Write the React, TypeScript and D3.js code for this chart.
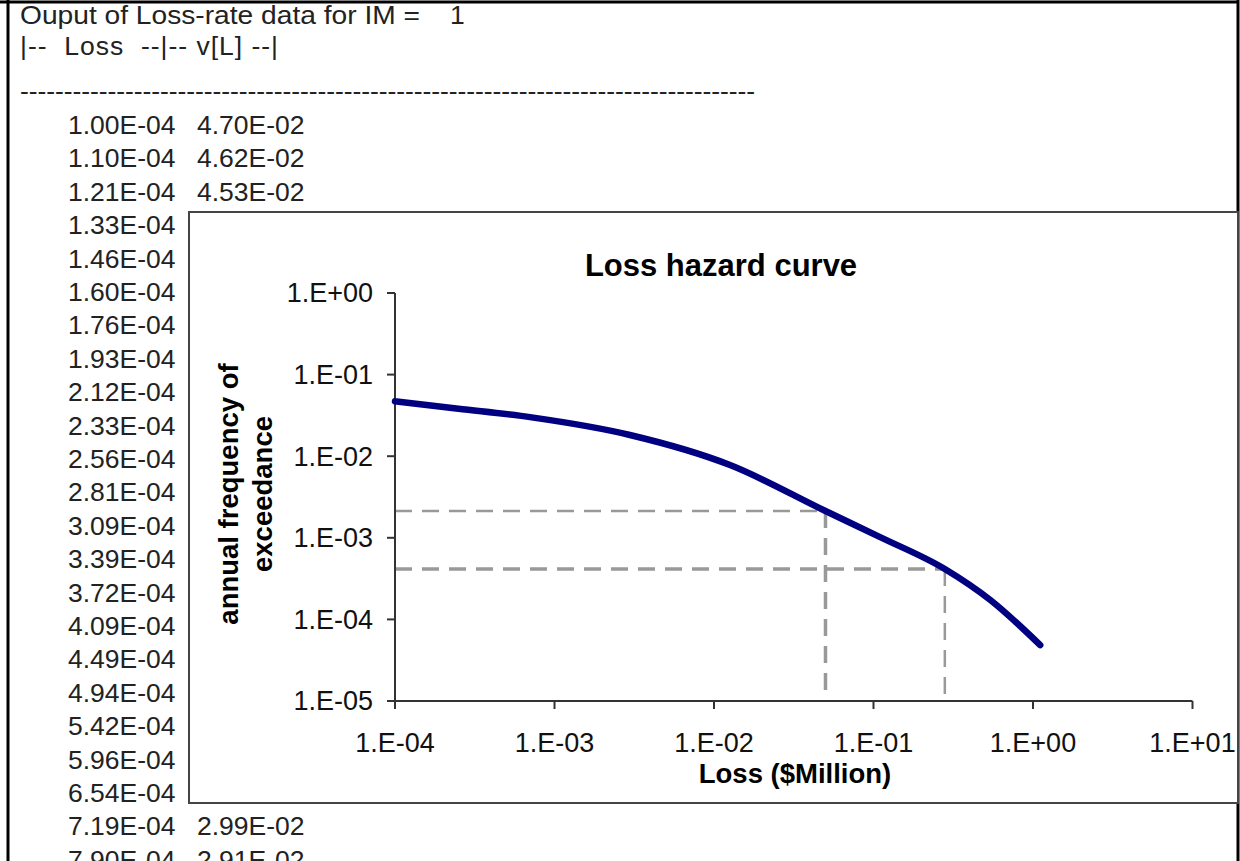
import React from "react";
import * as d3 from "d3";

const W = 1240;
const H = 861;

// ---- text listing (background document) ----
const headerTitle = "Ouput of Loss-rate data for IM =";
const headerIM = "1";
const headerColumns = "|--  Loss  --|-- v[L] --|";
const tableLoss = [
  "1.00E-04", "1.10E-04", "1.21E-04", "1.33E-04", "1.46E-04", "1.60E-04",
  "1.76E-04", "1.93E-04", "2.12E-04", "2.33E-04", "2.56E-04", "2.81E-04",
  "3.09E-04", "3.39E-04", "3.72E-04", "4.09E-04", "4.49E-04", "4.94E-04",
  "5.42E-04", "5.96E-04", "6.54E-04", "7.19E-04", "7.90E-04",
];
const tableRate = [
  "4.70E-02", "4.62E-02", "4.53E-02", "", "", "",
  "", "", "", "", "", "",
  "", "", "", "", "", "",
  "", "", "3.07E-02", "2.99E-02", "2.91E-02",
];

// ---- chart data ----
const chartTitle = "Loss hazard curve";
const xAxisTitle = "Loss ($Million)";
const yAxisTitleLines = ["annual frequency of", "exceedance"];
const xTickValues = [1e-4, 1e-3, 1e-2, 1e-1, 1e0, 1e1];
const yTickValues = [1e-5, 1e-4, 1e-3, 1e-2, 1e-1, 1e0];

const lossValues = [1.0e-4, 2.5e-4, 7.19e-4, 2.97e-3, 1.26e-2, 5.0e-2, 0.11, 0.28, 0.54, 1.11];
const rateValues = [4.7e-2, 3.82e-2, 2.99e-2, 1.82e-2, 7.8e-3, 2.13e-3, 1.02e-3, 4.15e-4, 1.73e-4, 4.85e-5];

// reference (dashed) read-offs
const refLosses = [5.0e-2, 0.28];
const refRates = [2.13e-3, 4.15e-4];
const refWidthsH = [2.5, 3.5];
const refWidthsV = [3.5, 2.5];

const FONT = "'Liberation Sans', Arial, Helvetica, sans-serif";

function fmtExp(v: number): string {
  const e = Math.round(Math.log10(v));
  return "1.E" + (e < 0 ? "-" : "+") + String(Math.abs(e)).padStart(2, "0");
}

export default function App() {
  const x = d3.scaleLog().domain([1e-4, 1e1]).range([395, 1192.5]);
  const y = d3.scaleLog().domain([1e-5, 1]).range([701, 293]);

  const pts = lossValues.map((l, i) => [l, rateValues[i]] as [number, number]);
  const line = d3
    .line<[number, number]>()
    .x((d) => x(d[0]))
    .y((d) => y(d[1]))
    .curve(d3.curveMonotoneX);

  const rowY = (i: number) => 134 + 33.4 * i;
  const LF = 26.5;

  const box = { x: 189, y: 212, w: 1049, h: 591 };

  return (
    <svg
      width={W}
      height={H}
      style={{ position: "absolute", left: 0, top: 0, background: "#fff" }}
      fontFamily={FONT}
    >
      <rect x={0} y={0} width={W} height={H} fill="#fff" />
      {/* document frame */}
      <line x1={8} y1={0} x2={8} y2={H} stroke="#000" strokeWidth={3} />
      <line x1={0} y1={2} x2={1238} y2={2} stroke="#000" strokeWidth={3} />
      <line x1={1238} y1={0} x2={1238} y2={H} stroke="#000" strokeWidth={3} />

      {/* listing */}
      <text x={20} y={24} fontSize={LF} fill="#222" textLength={400} lengthAdjust="spacingAndGlyphs">{headerTitle}</text>
      <text x={450} y={24} fontSize={LF} fill="#222">{headerIM}</text>
      <text x={20} y={55} fontSize={LF} fill="#222" xmlSpace="preserve" textLength={258} lengthAdjust="spacing">{headerColumns}</text>
      <text x={20} y={100} fontSize={LF} fill="#222" textLength={735} lengthAdjust="spacing">
        {"-".repeat(84)}
      </text>
      {tableLoss.map((t, i) => (
        <g key={t}>
          <text x={68} y={rowY(i)} fontSize={LF} fill="#222">{t}</text>
          {tableRate[i] ? (
            <text x={197} y={rowY(i)} fontSize={LF} fill="#222">{tableRate[i]}</text>
          ) : null}
        </g>
      ))}

      {/* chart box */}
      <rect x={box.x} y={box.y} width={box.w} height={box.h} fill="#fff" stroke="#444" strokeWidth={2} />

      <text x={721} y={276} fontSize={31} fontWeight="bold" textAnchor="middle" fill="#000">
        {chartTitle}
      </text>

      {/* dashed reference lines */}
      {refLosses.map((l, i) => (
        <g key={"ref" + i}>
          <line
            x1={x(1e-4)} x2={x(l)} y1={y(refRates[i])} y2={y(refRates[i])}
            stroke="#999" strokeWidth={refWidthsH[i]} strokeDasharray="17,10"
          />
          <line
            x1={x(l)} x2={x(l)} y1={y(refRates[i])} y2={y(1e-5)}
            stroke="#999" strokeWidth={refWidthsV[i]} strokeDasharray="17,10"
          />
        </g>
      ))}

      {/* axes */}
      <line x1={x(1e-4)} x2={x(1e-4)} y1={y(1)} y2={y(1e-5)} stroke="#333" strokeWidth={2} />
      <line x1={x(1e-4)} x2={x(1e1)} y1={y(1e-5)} y2={y(1e-5)} stroke="#333" strokeWidth={2} />
      {yTickValues.map((v) => (
        <g key={"y" + v}>
          <line x1={x(1e-4) - 8} x2={x(1e-4)} y1={y(v)} y2={y(v)} stroke="#333" strokeWidth={2} />
          <text x={373} y={y(v)} dy="0.35em" fontSize={27} textAnchor="end" fill="#111">
            {fmtExp(v)}
          </text>
        </g>
      ))}
      {xTickValues.map((v) => (
        <g key={"x" + v}>
          <line x1={x(v)} x2={x(v)} y1={y(1e-5)} y2={y(1e-5) + 8} stroke="#333" strokeWidth={2} />
          <text x={x(v)} y={743} dy="0.35em" fontSize={27} textAnchor="middle" fill="#111">
            {fmtExp(v)}
          </text>
        </g>
      ))}

      {/* curve */}
      <path d={line(pts) || ""} fill="none" stroke="#000080" strokeWidth={6.5} strokeLinecap="round" />

      {/* axis titles */}
      <text x={795} y={773} dy="0.35em" fontSize={27.5} fontWeight="bold" textAnchor="middle" fill="#000">
        {xAxisTitle}
      </text>
      {yAxisTitleLines.map((t, i) => (
        <text
          key={t}
          transform={`translate(${228 + 34 * i},494) rotate(-90)`}
          dy="0.35em"
          fontSize={27.5}
          fontWeight="bold"
          textAnchor="middle"
          fill="#000"
        >
          {t}
        </text>
      ))}
    </svg>
  );
}
